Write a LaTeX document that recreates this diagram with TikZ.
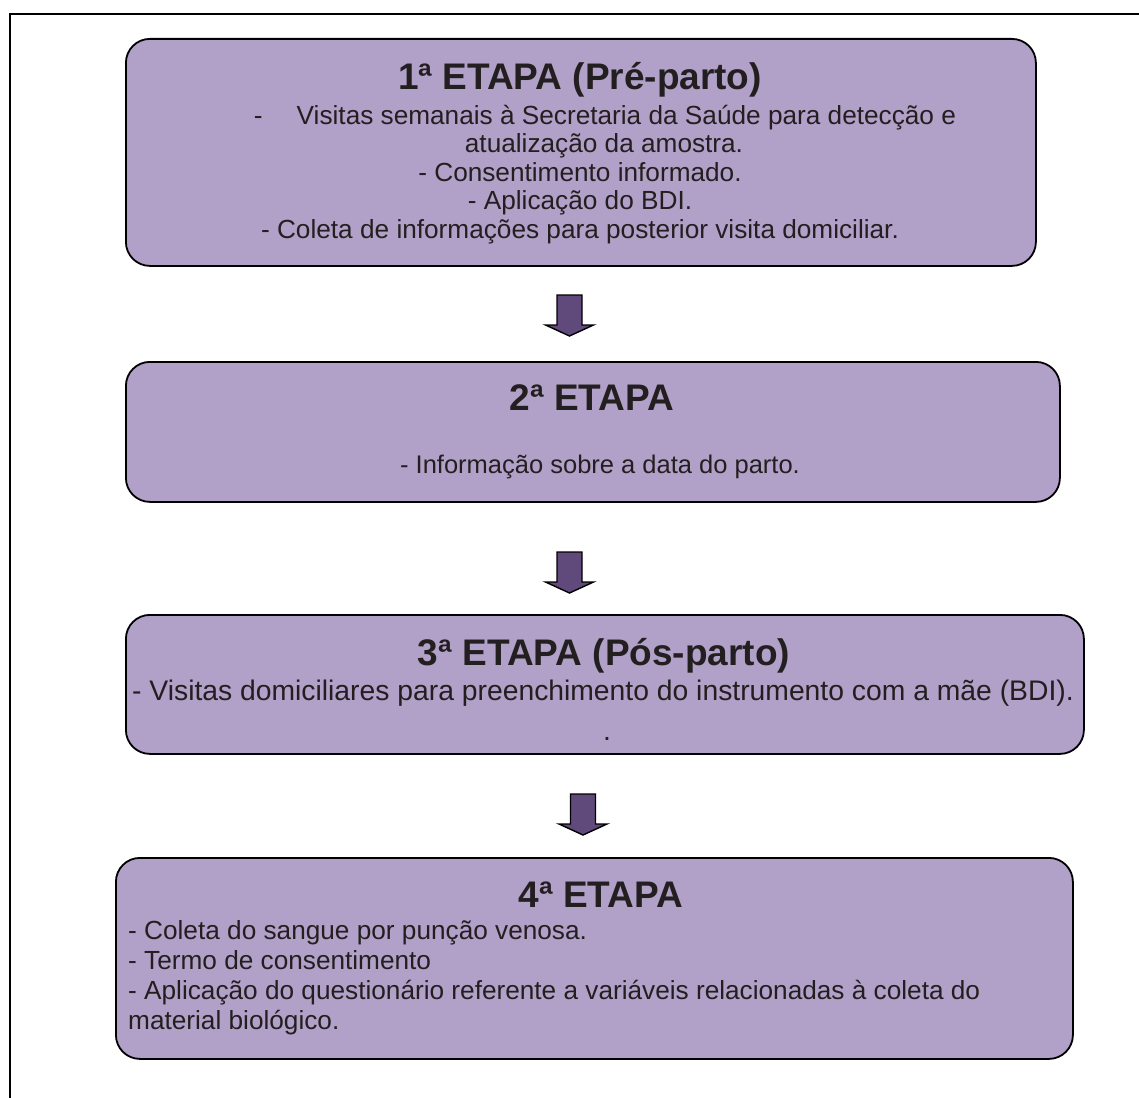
\documentclass[tikz,border=0pt]{standalone}
\usepackage{fontspec}
\setmainfont{Liberation Sans}
\usetikzlibrary{positioning}
\definecolor{lilas}{HTML}{B1A0C7}
\definecolor{roxo}{HTML}{604A7B}
\definecolor{tinta}{HTML}{231F20}

\begin{document}
\begin{tikzpicture}[x=1pt,y=-1pt]
\tikzset{E/.style={draw=black,line width=1.8pt,fill=lilas,rounded corners=24pt,inner sep=0pt,anchor=north west},
  T/.style={font=\fontsize{37}{42}\selectfont\bfseries,text=tinta,inner sep=0pt,anchor=base},
  L/.style={font=\fontsize{26.2}{28.5}\selectfont,text=tinta,inner sep=0pt,anchor=north},
  seta/.pic={\filldraw[fill=roxo,draw=black,line width=1.4pt,line join=miter]
    (-12.5,0) -- (12.5,0) -- (12.5,30) -- (24,30) -- (0,41) -- (-24,30) -- (-12.5,30) -- cycle;}}

 \useasboundingbox (0,0) rectangle (1139,1097);
 \draw[line width=2.6pt] (10,1120) |- (1160,14);

 % etapas
  \node[E,minimum width=910pt,minimum height=227pt] (e1) at (125,38)  {};
  \node[E,minimum width=934pt,minimum height=140pt] (e2) at (125,361) {};
  \node[E,minimum width=958pt,minimum height=139pt] (e3) at (125,614) {};
  \node[E,minimum width=957pt,minimum height=201pt] (e4) at (115,857) {};

  \node[T] (t1) at (580,90)  {1ª ETAPA (Pré-parto)};
  \node[T] (t2) at (592,410) {2ª ETAPA};
  \node[T] (t3) at (604,665) {3ª ETAPA (Pós-parto)};
  \node[T] (t4) at (601,907) {4ª ETAPA};

  \node[L,align=center] (l1) at (580,105) {\hspace*{50pt}-\hspace{34pt}Visitas semanais à Secretaria da Saúde para detecção e\\
    \hspace*{48pt}atualização da amostra.\\
    - Consentimento informado.\\
    - Aplicação do BDI.\\
    - Coleta de informações para posterior visita domiciliar.};
  \node[L,font=\fontsize{25.5}{28.5}\selectfont] (l2) at (600,455) {- Informação sobre a data do parto.};
  \node[L,align=center,font=\fontsize{28.3}{31}\selectfont] (l3) at (603,680) {- Visitas domiciliares para preenchimento do instrumento com a mãe (BDI).\\[9pt]
    \hspace*{8pt}.};
  \node[L,align=left,anchor=north west,font=\fontsize{26.2}{30}\selectfont] (l4) at (128,920) {- Coleta do sangue por punção venosa.\\
    - Termo de consentimento\\
    - Aplicação do questionário referente a variáveis relacionadas à coleta do\\
    material biológico.};

 % setas
  \pic at (569.5,295) {seta};
  \pic at (569.5,552) {seta};
  \pic at (583,794) {seta};
\end{tikzpicture}
\end{document}
